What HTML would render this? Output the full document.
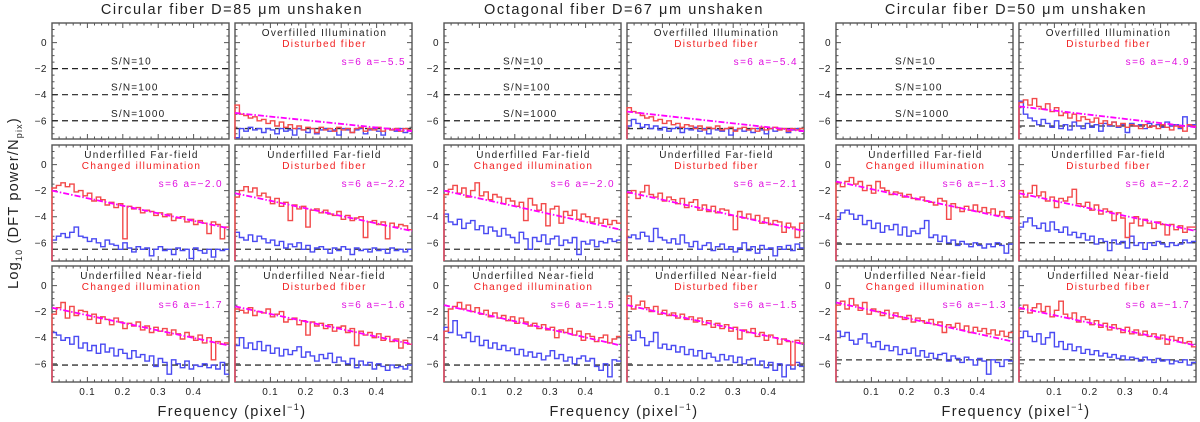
<!DOCTYPE html>
<html><head><meta charset="utf-8"><style>
body{margin:0;background:#fff;}
svg{display:block;font-family:"Liberation Sans",sans-serif;}
</style></head><body>
<svg id="chart" width="1200" height="422" viewBox="0 0 1200 422" xmlns="http://www.w3.org/2000/svg"></svg>
<script>
// ---- tick labels ----
const xTicks = [0.1, 0.2, 0.3, 0.4];
const yTicks = [0, -2, -4, -6];
const groupTitles = ["Circular fiber D=85 \u03BCm unshaken", "Octagonal fiber D=67 \u03BCm unshaken", "Circular fiber D=50 \u03BCm unshaken"];
const snLevels = [-2, -4, -6];
const snLabels = ["S/N=10", "S/N=100", "S/N=1000"];
// ---- series data (40 bins over 0..0.5) ----
const g1r0c1Red=[-4.8,-5.5,-5.6,-5.8,-5.7,-6.0,-5.9,-6.2,-6.0,-6.4,-6.1,-6.5,-6.3,-6.6,-6.4,-6.7,-6.5,-6.6,-6.9,-6.5,-6.7,-6.6,-6.8,-6.5,-6.7,-6.6,-6.9,-6.6,-6.5,-6.8,-6.6,-6.7,-6.5,-6.8,-6.6,-6.7,-6.6,-6.8,-6.6,-6.7];
const g1r0c1Blue=[-7.3,-6.6,-6.8,-6.5,-6.7,-6.6,-6.9,-6.6,-6.7,-7.0,-6.6,-6.8,-6.7,-7.1,-6.6,-6.7,-6.9,-6.6,-7.0,-6.7,-6.6,-6.8,-6.7,-7.1,-6.6,-6.7,-6.9,-6.7,-6.6,-7.0,-6.7,-6.6,-6.8,-7.1,-6.6,-6.7,-6.8,-6.6,-6.9,-6.7];
const g1r1c0Red=[-1.8,-1.6,-1.4,-1.7,-1.5,-2.1,-2.0,-2.4,-2.2,-2.8,-2.5,-2.7,-3.1,-2.9,-3.3,-3.0,-5.7,-3.2,-3.4,-3.3,-3.7,-3.5,-3.6,-3.9,-3.7,-4.0,-3.8,-4.3,-4.1,-4.0,-4.4,-4.2,-4.6,-4.3,-4.5,-5.3,-4.4,-4.6,-5.7,-4.8];
const g1r1c0Blue=[-5.8,-5.5,-5.3,-5.6,-5.2,-4.8,-5.5,-5.6,-5.9,-5.7,-6.0,-6.3,-5.8,-6.1,-6.2,-6.5,-6.0,-6.4,-6.7,-6.3,-6.5,-6.4,-7.0,-6.5,-6.3,-6.6,-6.5,-6.9,-6.4,-6.6,-6.5,-7.2,-6.4,-6.6,-6.8,-6.5,-7.1,-6.5,-6.6,-6.5];
const g1r1c1Red=[-2.5,-2.0,-1.7,-2.1,-1.8,-2.4,-2.2,-2.5,-3.0,-2.6,-3.2,-2.9,-4.3,-3.1,-3.4,-3.2,-4.8,-3.5,-3.4,-3.7,-3.5,-3.8,-3.9,-3.6,-4.2,-3.9,-4.3,-4.1,-4.0,-5.6,-4.4,-4.3,-4.6,-4.4,-5.7,-4.5,-4.8,-4.6,-4.7,-5.0];
const g1r1c1Blue=[-5.2,-5.6,-5.8,-5.4,-5.9,-5.5,-5.7,-6.0,-5.8,-6.2,-5.9,-6.4,-6.1,-6.3,-6.0,-6.5,-6.2,-6.7,-6.4,-6.3,-6.5,-6.8,-6.4,-6.6,-6.3,-6.5,-6.9,-6.4,-6.6,-6.5,-6.7,-6.4,-6.6,-6.5,-6.8,-6.4,-6.6,-6.5,-6.7,-6.5];
const g1r2c0Red=[-2.2,-1.7,-1.3,-2.5,-1.6,-2.3,-1.9,-2.0,-2.6,-2.2,-2.9,-2.4,-2.6,-3.0,-2.5,-2.8,-3.3,-2.9,-3.1,-2.8,-3.4,-3.1,-3.6,-3.2,-3.5,-3.3,-3.8,-3.4,-3.7,-4.1,-3.6,-3.9,-4.2,-3.8,-4.4,-4.0,-5.7,-4.3,-4.5,-4.4];
const g1r2c0Blue=[-3.6,-3.8,-4.2,-4.0,-4.5,-3.9,-4.8,-4.4,-5.0,-4.6,-5.2,-4.5,-5.1,-4.8,-5.4,-4.9,-5.2,-5.6,-5.0,-5.5,-5.3,-5.8,-5.4,-6.2,-5.6,-5.9,-6.8,-5.7,-6.0,-6.3,-5.8,-6.4,-6.1,-6.2,-6.0,-6.3,-6.1,-6.4,-5.9,-6.8];
const g1r2c1Red=[-1.8,-1.9,-2.1,-1.7,-2.3,-2.0,-2.1,-1.8,-2.4,-2.2,-2.0,-2.8,-2.6,-2.5,-3.0,-2.7,-3.8,-2.8,-3.1,-2.9,-3.3,-3.0,-3.5,-3.2,-3.1,-3.6,-3.3,-4.6,-3.5,-3.8,-3.6,-4.0,-3.7,-4.2,-3.9,-4.3,-4.1,-4.8,-4.2,-4.5];
const g1r2c1Blue=[-4.6,-4.0,-4.8,-4.4,-4.9,-4.3,-5.0,-4.6,-5.2,-4.8,-5.4,-4.9,-5.3,-5.0,-4.7,-5.5,-5.1,-5.4,-5.8,-5.3,-5.6,-5.2,-5.9,-5.5,-5.8,-6.0,-5.6,-6.3,-5.8,-6.1,-5.9,-6.4,-6.0,-6.2,-6.5,-6.1,-6.3,-6.2,-6.4,-6.1];
const g2r0c1Red=[-5.0,-5.3,-5.4,-5.6,-5.8,-5.7,-6.0,-5.9,-6.2,-6.0,-6.3,-6.2,-6.5,-6.3,-6.4,-6.6,-6.4,-6.7,-6.5,-6.6,-6.4,-6.7,-6.6,-6.5,-6.8,-6.6,-6.5,-6.7,-6.6,-6.8,-6.5,-6.7,-6.6,-6.5,-6.7,-6.6,-6.8,-6.6,-6.7,-6.6];
const g2r0c1Blue=[-6.4,-5.9,-6.2,-6.5,-6.3,-6.6,-6.4,-6.7,-6.5,-6.8,-6.6,-6.5,-6.9,-6.6,-6.7,-6.5,-6.8,-6.6,-7.0,-6.6,-6.7,-6.8,-6.6,-7.1,-6.7,-6.6,-6.8,-6.7,-6.9,-6.6,-6.7,-7.0,-6.6,-6.8,-6.7,-6.6,-6.9,-6.7,-6.6,-6.8];
const g2r1c0Red=[-2.3,-1.9,-1.6,-2.2,-1.8,-2.5,-2.0,-1.4,-2.4,-2.1,-2.7,-2.3,-2.5,-3.0,-2.6,-2.8,-3.2,-2.9,-4.3,-2.6,-3.1,-3.5,-3.0,-4.7,-3.4,-3.2,-4.5,-3.6,-3.9,-3.5,-4.2,-3.8,-4.0,-4.4,-4.1,-4.5,-4.2,-4.6,-4.3,-4.5];
const g2r1c0Blue=[-3.8,-4.4,-4.6,-4.2,-4.9,-4.5,-4.3,-5.0,-4.7,-5.3,-4.8,-5.1,-5.5,-4.9,-5.4,-5.6,-6.0,-5.2,-5.7,-6.5,-5.6,-5.9,-5.4,-6.1,-5.7,-5.5,-6.2,-5.8,-6.0,-5.6,-6.9,-5.9,-6.1,-5.8,-6.3,-5.9,-6.0,-5.7,-5.9,-5.8];
const g2r1c1Red=[-2.2,-2.0,-2.6,-2.1,-1.6,-2.3,-2.5,-2.2,-2.8,-2.5,-2.7,-3.0,-2.6,-3.3,-2.9,-2.7,-3.5,-3.1,-3.6,-3.2,-3.7,-3.4,-3.5,-3.9,-5.0,-3.6,-4.1,-3.8,-4.2,-3.9,-4.5,-4.1,-4.6,-4.3,-4.4,-5.2,-4.5,-4.8,-5.6,-4.5];
const g2r1c1Blue=[-5.6,-5.4,-5.7,-5.2,-5.5,-5.9,-4.9,-5.6,-5.8,-6.0,-5.7,-6.1,-5.4,-6.0,-6.3,-5.9,-6.5,-6.2,-6.0,-6.6,-6.3,-6.1,-6.5,-6.3,-6.7,-6.4,-6.0,-6.6,-6.3,-6.8,-6.2,-6.5,-6.4,-7.0,-6.3,-6.5,-6.2,-6.6,-6.1,-6.4];
const g2r2c0Red=[-3.5,-1.8,-1.6,-1.3,-1.8,-1.5,-2.0,-1.7,-2.2,-1.9,-2.4,-2.1,-2.5,-2.3,-2.7,-2.4,-2.9,-2.5,-2.8,-3.1,-2.9,-3.3,-3.0,-3.4,-3.2,-4.0,-3.4,-3.6,-3.3,-3.8,-3.5,-4.2,-3.7,-3.9,-4.3,-4.0,-3.8,-4.4,-4.1,-3.9];
const g2r2c0Blue=[-3.2,-3.6,-2.7,-3.8,-4.0,-3.6,-4.3,-3.9,-4.6,-4.2,-4.8,-4.4,-4.9,-4.6,-5.0,-4.8,-5.3,-4.9,-5.4,-5.1,-5.5,-5.2,-5.7,-5.4,-5.0,-5.6,-5.3,-5.8,-5.5,-6.0,-5.6,-5.4,-5.8,-5.6,-6.2,-6.5,-6.0,-7.0,-5.7,-5.8];
const g2r2c1Red=[-0.8,-1.8,-1.5,-1.2,-1.7,-2.0,-1.6,-2.2,-1.9,-2.3,-2.1,-2.5,-2.2,-2.6,-2.4,-2.8,-2.5,-3.0,-2.7,-3.2,-2.9,-3.3,-3.0,-3.5,-3.2,-4.1,-3.4,-3.6,-3.3,-3.9,-3.6,-4.2,-3.8,-4.0,-4.5,-4.1,-4.3,-6.1,-4.2,-4.4];
const g2r2c1Blue=[-3.8,-4.2,-3.5,-4.0,-4.6,-4.3,-3.6,-4.8,-4.5,-4.9,-4.6,-5.1,-4.7,-5.3,-4.9,-5.4,-5.0,-5.6,-5.2,-5.5,-5.8,-5.3,-5.7,-5.4,-5.9,-5.5,-6.0,-5.7,-5.6,-6.1,-5.8,-6.3,-5.9,-6.5,-6.0,-7.0,-6.1,-6.4,-5.9,-6.2];
const g3r0c1Red=[-4.6,-4.4,-4.8,-4.3,-4.9,-5.1,-4.7,-5.3,-5.0,-5.6,-5.4,-5.8,-5.5,-6.0,-5.7,-5.9,-6.1,-5.8,-6.2,-6.0,-6.3,-6.1,-6.4,-6.2,-6.5,-6.3,-6.4,-6.6,-6.3,-6.5,-6.4,-6.6,-6.3,-6.5,-6.7,-6.4,-6.5,-6.8,-6.3,-6.4];
const g3r0c1Blue=[-4.5,-5.5,-5.8,-6.0,-6.3,-5.9,-6.2,-6.5,-6.0,-6.6,-6.3,-6.7,-6.1,-6.4,-6.6,-6.2,-6.5,-6.3,-6.8,-6.2,-6.4,-6.1,-6.5,-6.3,-6.9,-6.2,-6.4,-6.3,-6.6,-6.2,-6.4,-6.3,-6.5,-6.1,-6.4,-6.3,-6.6,-5.7,-6.4,-6.3];
const g3r1c0Red=[-1.4,-1.7,-1.3,-1.0,-1.5,-1.3,-2.0,-1.6,-2.2,-1.3,-1.8,-2.0,-2.3,-2.1,-2.2,-2.5,-2.3,-2.6,-2.7,-2.5,-2.8,-2.9,-3.1,-2.6,-2.8,-4.2,-3.0,-3.3,-3.6,-3.2,-3.5,-3.1,-3.6,-3.3,-3.7,-3.4,-3.9,-3.6,-4.0,-4.1];
const g3r1c0Blue=[-4.2,-3.7,-3.5,-3.8,-4.2,-3.9,-4.6,-4.3,-4.9,-4.5,-5.2,-4.7,-5.0,-4.6,-5.4,-4.8,-5.5,-5.1,-5.3,-4.9,-4.3,-5.6,-5.4,-5.9,-5.5,-6.0,-5.8,-6.2,-5.9,-6.1,-6.3,-6.0,-6.2,-6.4,-6.1,-6.3,-6.0,-6.2,-6.8,-6.1];
const g3r1c1Red=[-2.0,-2.5,-2.2,-1.6,-2.4,-2.1,-2.8,-2.5,-3.3,-2.6,-2.8,-2.5,-1.9,-3.0,-3.2,-2.9,-3.5,-3.1,-3.8,-3.4,-3.6,-4.3,-3.7,-4.1,-5.6,-4.5,-4.0,-4.7,-4.2,-4.5,-4.9,-4.4,-4.6,-5.4,-4.6,-5.0,-4.7,-5.2,-4.8,-4.8];
const g3r1c1Blue=[-4.8,-4.4,-4.1,-4.7,-4.9,-4.5,-5.1,-4.4,-5.0,-5.2,-4.8,-5.4,-5.2,-5.6,-5.3,-5.8,-5.5,-6.1,-5.7,-5.9,-6.6,-5.8,-6.1,-5.9,-6.4,-5.5,-6.2,-6.0,-6.5,-6.0,-6.2,-5.9,-6.1,-6.3,-6.0,-6.2,-6.1,-5.8,-6.0,-5.9];
const g3r2c0Red=[-1.5,-1.2,-1.8,-1.0,-1.5,-1.9,-1.3,-2.2,-1.8,-2.0,-2.3,-1.9,-2.5,-2.1,-2.4,-2.6,-2.3,-2.8,-2.5,-2.7,-2.9,-2.6,-3.0,-2.8,-3.6,-3.0,-3.2,-2.9,-3.4,-3.1,-3.6,-3.2,-3.5,-3.3,-3.7,-3.4,-3.8,-3.5,-3.9,-3.6];
const g3r2c0Blue=[-3.5,-3.9,-3.6,-4.2,-4.5,-4.1,-3.7,-4.4,-4.7,-4.3,-4.9,-4.6,-5.0,-4.7,-5.3,-4.9,-5.2,-4.8,-5.4,-5.0,-5.5,-5.2,-5.6,-5.3,-5.2,-5.8,-5.4,-5.6,-5.9,-5.5,-5.7,-6.1,-5.6,-5.8,-6.8,-5.7,-5.9,-6.2,-5.7,-5.8];
const g3r2c1Red=[-1.8,-1.5,-2.1,-1.7,-1.4,-2.0,-1.6,-2.4,-1.9,-1.2,-2.2,-2.5,-2.1,-2.8,-2.4,-2.6,-3.0,-2.7,-3.2,-2.9,-3.4,-3.0,-3.3,-3.6,-3.2,-3.7,-3.4,-3.8,-3.5,-3.9,-3.7,-4.1,-3.8,-4.5,-3.9,-4.2,-4.0,-4.4,-4.3,-4.7];
const g3r2c1Blue=[-4.0,-3.5,-3.9,-4.3,-3.7,-4.5,-4.0,-3.6,-4.7,-4.3,-4.9,-4.5,-5.0,-4.7,-5.2,-4.9,-5.3,-5.0,-5.4,-5.2,-5.5,-5.3,-5.6,-5.4,-5.7,-5.5,-5.6,-5.8,-5.5,-5.7,-5.9,-5.6,-5.8,-5.7,-6.0,-5.8,-5.9,-5.7,-6.1,-5.9];
// fit lines [value at f=0, value at f=0.5]
const fitStart = [[-5.4,-2.0,-2.2,-1.7,-1.6],[-5.3,-2.0,-2.1,-1.5,-1.5],[-4.9,-1.3,-2.2,-1.3,-1.7]];
const fitEnd   = [[-6.8,-4.9,-5.1,-4.6,-4.5],[-6.8,-5.0,-5.1,-4.6,-4.5],[-6.5,-4.2,-5.1,-4.3,-4.6]];
const fitLabels= [["-5.5","-2.0","-2.2","-1.7","-1.6"],["-5.4","-2.0","-2.1","-1.5","-1.5"],["-4.9","-1.3","-2.2","-1.3","-1.7"]];
const noiseLevel=[[-6.6,-6.5,-6.5,-6.1,-6.1],[-6.6,-6.5,-6.5,-6.1,-6.1],[-6.4,-6.1,-6.0,-5.7,-5.7]];
const redSeries=[[g1r0c1Red,g1r1c0Red,g1r1c1Red,g1r2c0Red,g1r2c1Red],[g2r0c1Red,g2r1c0Red,g2r1c1Red,g2r2c0Red,g2r2c1Red],[g3r0c1Red,g3r1c0Red,g3r1c1Red,g3r2c0Red,g3r2c1Red]];
const blueSeries=[[g1r0c1Blue,g1r1c0Blue,g1r1c1Blue,g1r2c0Blue,g1r2c1Blue],[g2r0c1Blue,g2r1c0Blue,g2r1c1Blue,g2r2c0Blue,g2r2c1Blue],[g3r0c1Blue,g3r1c0Blue,g3r1c1Blue,g3r2c0Blue,g3r2c1Blue]];
const panelTitles=[["Overfilled Illumination","Disturbed fiber"],["Underfilled Far-field","Changed illumination"],["Underfilled Far-field","Disturbed fiber"],["Underfilled Near-field","Changed illumination"],["Underfilled Near-field","Disturbed fiber"]];
const panelRC=[[0,1],[1,0],[1,1],[2,0],[2,1]];

const NS="http://www.w3.org/2000/svg";
const svg=document.getElementById('chart');
function mk(tag,attrs,parent){const e=document.createElementNS(NS,tag);for(const k in attrs)e.setAttribute(k,attrs[k]);(parent||svg).appendChild(e);return e;}
const PW=177,PH=116,groupX=[52,444,836],colDX=183,rowY=[23,145,266];
const XMIN=0,XMAX=0.5,YMIN=-7.4,YMAX=1.5;
function sx(x0,v){return x0+(v-XMIN)/(XMAX-XMIN)*PW;}
function sy(y0,v){return y0+(YMAX-v)/(YMAX-YMIN)*PH;}

function drawFrame(x0,y0,g,r,c){
  const fr=mk('rect',{x:x0,y:y0,width:PW,height:PH,fill:'none',stroke:'#555','stroke-width':1.4});
  
  
  let d='';
  for(let v=0.02;v<0.5;v+=0.02){const X=sx(x0,v).toFixed(1);const major=Math.abs(v*10-Math.round(v*10))<1e-6;const L=major?5:2.5;d+=`M${X} ${y0}v${L}M${X} ${y0+PH}v${-L}`;}
  for(let v=-7;v<=1.01;v+=0.5){const Y=sy(y0,v).toFixed(1);const major=Math.abs(v/2-Math.round(v/2))<1e-6;const L=major?5:2.5;d+=`M${x0} ${Y}h${L}M${x0+PW} ${Y}h${-L}`;}
  const t=mk('path',{d:d,stroke:'#555','stroke-width':1,fill:'none'});
  
  
  if(c===0){yTicks.forEach(v=>{const tl=mk('text',{x:x0-5,y:sy(y0,v)+3.5,'text-anchor':'end','font-size':10,fill:'#222','letter-spacing':0.5});tl.textContent=v===0?'0':'\u2212'+Math.abs(v);
    
    });}
  if(r===2){xTicks.forEach(v=>{const tl=mk('text',{x:sx(x0,v),y:395,'text-anchor':'middle','font-size':10,fill:'#222','letter-spacing':0.8});tl.textContent=v.toFixed(1);
    
    });}
}
function stepPath(x0,y0,arr){
  const n=arr.length;let d='';
  for(let i=0;i<n;i++){const xa=sx(x0,XMIN+i*(XMAX-XMIN)/n),xb=sx(x0,XMIN+(i+1)*(XMAX-XMIN)/n);const Y=sy(y0,Math.max(YMIN,arr[i])).toFixed(1);
    d+=(i===0?`M${xa.toFixed(1)} ${sy(y0,YMIN).toFixed(1)}L${xa.toFixed(1)} ${Y}`:`L${xa.toFixed(1)} ${Y}`)+`L${xb.toFixed(1)} ${Y}`;}
  return d;
}
for(let g=0;g<3;g++){
  const gx=groupX[g];
  const tt=mk('text',{x:gx+180,y:14,'text-anchor':'middle','font-size':14.5,fill:'#222','letter-spacing':1.6});
  tt.textContent=groupTitles[g];
  
  
  const xl=mk('text',{x:gx+180,y:416,'text-anchor':'middle','font-size':14.5,fill:'#222','letter-spacing':1.4});
  xl.innerHTML='Frequency (pixel<tspan dy="-6" font-size="9">\u22121</tspan><tspan dy="6">)</tspan>';
  
  
  const ex=gx,ey=rowY[0];
  drawFrame(ex,ey,g,0,0);
  snLevels.forEach((v,i)=>{const l=mk('line',{x1:ex,x2:ex+PW,y1:sy(ey,v),y2:sy(ey,v),stroke:'#222','stroke-width':1.2,'stroke-dasharray':'6,4'});
    
    
    const t=mk('text',{x:ex+59,y:sy(ey,v)-4,'font-size':10,fill:'#222','letter-spacing':1.2});t.textContent=snLabels[i];
    
    });
  for(let p=0;p<5;p++){
    const [r,c]=panelRC[p];const x0=gx+c*colDX,y0=rowY[r];
    drawFrame(x0,y0,g,r,c);
    const nl=mk('line',{x1:x0,x2:x0+PW,y1:sy(y0,noiseLevel[g][p]),y2:sy(y0,noiseLevel[g][p]),stroke:'#333','stroke-width':1.3,'stroke-dasharray':'6,4'});
    
    
    const b=mk('path',{d:stepPath(x0,y0,blueSeries[g][p]),fill:'none',stroke:'#4a4af2','stroke-width':1.4});
    
    
    const rd=mk('path',{d:stepPath(x0,y0,redSeries[g][p]),fill:'none',stroke:'#f24a4a','stroke-width':1.4});
    
    
    const f=mk('line',{x1:sx(x0,XMIN),y1:sy(y0,fitStart[g][p]),x2:sx(x0,XMAX),y2:sy(y0,fitEnd[g][p]),stroke:'#f0f','stroke-width':1.8,'stroke-dasharray':'6,2,1.5,2'});
    
    
    const t1=mk('text',{x:x0+PW/2+1,y:y0+13,'text-anchor':'middle','font-size':10,fill:'#222','letter-spacing':1.3});t1.textContent=panelTitles[p][0];
    
    
    const t2=mk('text',{x:x0+PW/2+1,y:y0+24,'text-anchor':'middle','font-size':10,fill:'#f02020','letter-spacing':1.3});t2.textContent=panelTitles[p][1];
    
    
    const t3=mk('text',{x:x0+PW-6,y:y0+42,'text-anchor':'end','font-size':10,fill:'#e010e0','letter-spacing':1.4});t3.textContent='s=6 a=\u2212'+fitLabels[g][p].slice(1);
    
    
  }
}
const yl=mk('text',{transform:'translate(18,203) rotate(-90)','text-anchor':'middle','font-size':14.5,fill:'#222','letter-spacing':1.2});
yl.innerHTML='Log<tspan dy="4" font-size="9">10</tspan><tspan dy="-4"> (DFT power/N</tspan><tspan dy="4" font-size="9">pix</tspan><tspan dy="-4">)</tspan>';


</script>
</body></html>
